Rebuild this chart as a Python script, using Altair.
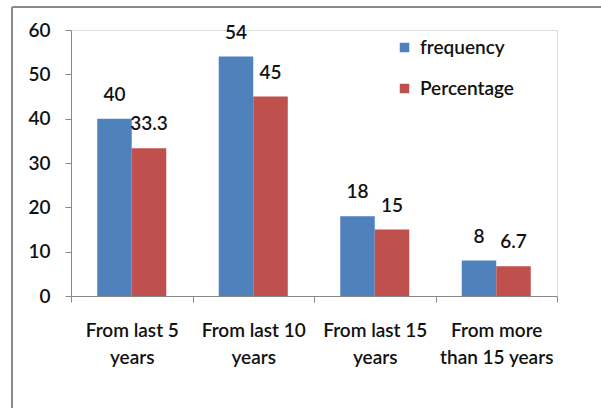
import altair as alt
import pandas as pd

# Survey data: how long respondents have been in place
categories = ["From last 5\nyears", "From last 10\nyears", "From last 15\nyears", "From more\nthan 15 years"]
frequency = [40, 54, 18, 8]
percentage = [33.3, 45, 15, 6.7]
series = ["frequency", "Percentage"]
colors = ["#4F81BD", "#C0504D"]

rows = []
for c, f, p in zip(categories, frequency, percentage):
    rows.append({"category": c, "series": series[0], "value": f, "label": f"{f:g}"})
    rows.append({"category": c, "series": series[1], "value": p, "label": f"{p:g}"})
df = pd.DataFrame(rows)

FONT = "Lato"
WEIGHT = 600
INK = "#111111"
W, H = 486, 266

x = alt.X(
    "category:N",
    sort=categories,
    scale=alt.Scale(paddingInner=0, paddingOuter=0),
    axis=alt.Axis(
        title=None,
        labelAngle=0,
        labelExpr="split(datum.label, '\\n')",
        labelFont=FONT,
        labelFontWeight=WEIGHT,
        labelFontSize=19,
        labelColor=INK,
        labelLineHeight=27,
        labelPadding=19,
        tickBand="extent",
        tickSize=6,
        tickColor="#888888",
        domainColor="#888888",
        grid=False,
    ),
)
xoff = alt.XOffset("series:N", sort=series, scale=alt.Scale(paddingOuter=0.76, paddingInner=0))
y = alt.Y(
    "value:Q",
    scale=alt.Scale(domain=[0, 60], nice=False),
    axis=alt.Axis(
        title=None,
        values=[0, 10, 20, 30, 40, 50, 60],
        labelFont=FONT,
        labelFontWeight=WEIGHT,
        labelFontSize=19,
        labelColor=INK,
        labelPadding=15,
        tickSize=6,
        tickColor="#888888",
        domainColor="#888888",
        grid=False,
    ),
)

base = alt.Chart(df)

bars = base.mark_bar().encode(
    x=x,
    xOffset=xoff,
    y=y,
    color=alt.Color(
        "series:N",
        sort=series,
        scale=alt.Scale(domain=series, range=colors),
        legend=alt.Legend(
            title=None,
            orient="none",
            legendX=324,
            legendY=8,
            symbolType="square",
            symbolSize=90,
            symbolStrokeWidth=0,
            labelFont=FONT,
            labelFontWeight=WEIGHT,
            labelFontSize=19,
            labelColor=INK,
            rowPadding=21,
            labelOffset=6,
        ),
    ),
)

labels = base.mark_text(
    baseline="alphabetic", dy=-18, font=FONT, fontWeight=WEIGHT, fontSize=19, color=INK
).encode(
    x=alt.X("category:N", sort=categories),
    xOffset=alt.XOffset("series:N", sort=series),
    y="value:Q",
    text="label:N",
)

# Frame lines along the top and left edges of the figure
frame_top = alt.Chart(df).mark_rule(color="#8a8a8a", strokeWidth=2).encode(
    x=alt.value(-59), x2=alt.value(540), y=alt.value(-23)
)
frame_left = alt.Chart(df).mark_rule(color="#8a8a8a", strokeWidth=2).encode(
    x=alt.value(-59), y=alt.value(-23), y2=alt.value(400)
)

chart = (
    alt.layer(bars, labels, frame_top, frame_left)
    .properties(
        width=W,
        height=H,
        autosize=alt.AutoSizeParams(type="none"),
        padding={"left": 71, "top": 30, "right": 44, "bottom": 112},
    )
    .configure_view(stroke=None)
    .configure(background="white")
)

chart.save("out.html", embed_options={"renderer": "svg", "actions": False})
